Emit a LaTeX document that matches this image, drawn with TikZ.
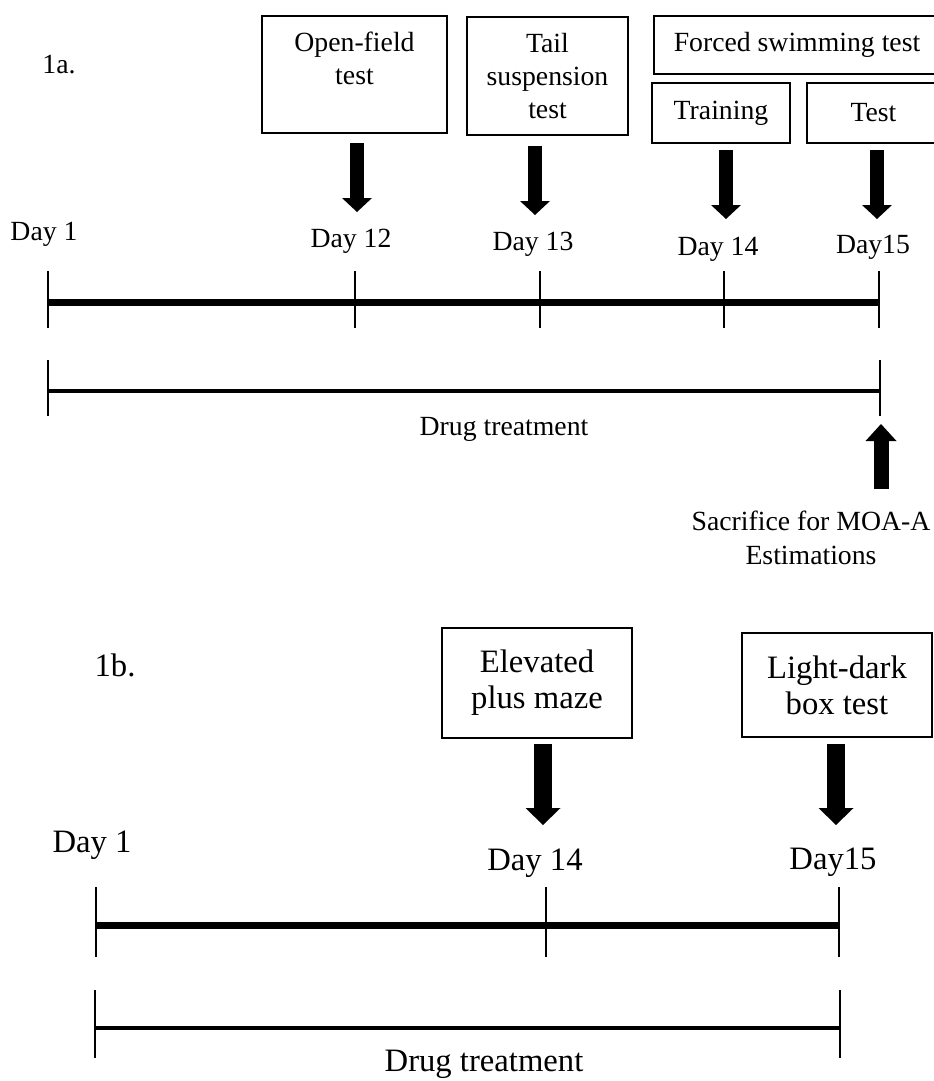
\documentclass[tikz,border=0pt]{standalone}
\usepackage{fontspec}
\setmainfont{Liberation Serif}
\usetikzlibrary{arrows.meta,calc}
\newcommand{\topfont}{\fontsize{20.8}{24.4}\selectfont}
\newcommand{\botfont}{\fontsize{24.5}{27}\selectfont}
\tikzset{
  testbox/.style={draw,line width=1.5pt,align=center,inner sep=0pt},
  daylab/.style={anchor=base,inner sep=0pt},
  tickline/.style={line width=1.9pt},
  timeline/.style={line width=5.25pt},
  drugline/.style={line width=3pt},
  fatarrow/.style={line width=10.5pt,-{Triangle[length=10.5pt,width=22.5pt,line width=0pt]}},
  bigarrow/.style={line width=13.5pt,-{Triangle[length=12.75pt,width=26.25pt,line width=0pt]}},
  uparrow/.style={line width=11.25pt,-{Triangle[length=12.75pt,width=23.25pt,line width=0pt]}},
}
\begin{document}
\begin{tikzpicture}[x=0.75pt,y=-0.75pt]
\useasboundingbox (0,0) rectangle (933,1081);
% ---- panel 1a ----
\node[daylab,font=\topfont] (lab1a) at (59,74) {1a.};
\node[testbox,font=\topfont,minimum width=138.75pt,minimum height=87.75pt] (openfield) at (354.5,74.5) {Open-field\\test\\~};
\node[testbox,font=\topfont,minimum width=120.75pt,minimum height=88.5pt] (tailbox) at (547.5,76) {Tail\\suspension\\test};
\node[testbox,font=\topfont,minimum width=214.5pt,minimum height=43.5pt] (forced) at (797,45) {Forced swimming test};
\node[testbox,font=\topfont,minimum width=103.5pt,minimum height=45pt] (training) at (721,113) {Training};
\node[testbox,font=\topfont,minimum width=99.75pt,minimum height=45pt] (testb) at (873.5,113) {Test};
% box to day arrows
\foreach \b/\x/\y/\g in {openfield/357/212/9,tailbox/535/215/10,training/726/219/6,testb/877/219/6} {
  \coordinate (tip-\b) at (\x,\y);
  \draw[fatarrow] ($(\b.south -| tip-\b)+(0,\g)$) -- (tip-\b);
}
% day labels
\node[daylab,font=\topfont] (a1) at (44,240) {Day 1};
\node[daylab,font=\topfont] (a12) at (351,247) {Day 12};
\node[daylab,font=\topfont] (a13) at (533,250) {Day 13};
\node[daylab,font=\topfont] (a14) at (718,255) {Day 14};
\node[daylab,font=\topfont] (a15) at (873,253) {Day15};
% timeline
\foreach \x/\n in {48/1,355/12,540/13,724/14,879/15} {
  \coordinate (ta\n) at (\x,302);
  \draw[tickline] (\x,271) -- (\x,328);
}
\draw[timeline] (ta1) -- (ta15);
% drug treatment
\coordinate (da1) at (48,391);
\coordinate (da2) at (880,391);
\draw[drugline] (da1) -- (da2);
\foreach \c in {da1,da2} \draw[tickline] ($(\c)+(0,-31)$) -- ($(\c)+(0,25)$);
\node[daylab,font=\topfont] (druga) at (504,435) {Drug treatment};
\node[anchor=north,inner sep=0pt,align=center,font={\fontsize{20.8}{25.5}\selectfont}] (sacrifice) at (811,511) {Sacrifice for MOA-A\\Estimations};
\coordinate (sactip) at (881,424);
\draw[uparrow] ($(sacrifice.north -| sactip)+(0,-22)$) -- (sactip);
% ---- panel 1b ----
\node[daylab,font=\botfont] (lab1b) at (115,676) {1b.};
\node[testbox,font=\botfont,minimum width=142.5pt,minimum height=82.5pt] (elevated) at (537,683) {Elevated\\plus maze};
\node[testbox,font=\botfont,minimum width=142.5pt,minimum height=78pt] (lightdark) at (837,685) {Light-dark\\box test};
\foreach \b/\x/\g in {elevated/543/5,lightdark/836/6} {
  \coordinate (tip-\b) at (\x,825);
  \draw[bigarrow] ($(\b.south -| tip-\b)+(0,\g)$) -- (tip-\b);
}
\node[daylab,font=\botfont] (b1) at (92,852) {Day 1};
\node[daylab,font=\botfont] (b14) at (535,870) {Day 14};
\node[daylab,font=\botfont] (b15) at (833,869) {Day15};
\foreach \x/\n in {96/1,546/14,839/15} {
  \coordinate (tb\n) at (\x,925);
  \draw[tickline] (\x,887) -- (\x,957);
}
\draw[timeline] (tb1) -- (tb15);
\coordinate (db1) at (95,1028);
\coordinate (db2) at (840,1028);
\draw[drugline] (db1) -- (db2);
\foreach \c in {db1,db2} \draw[tickline] ($(\c)+(0,-38)$) -- ($(\c)+(0,30)$);
\node[daylab,font=\botfont] (drugb) at (484,1071) {Drug treatment};
\end{tikzpicture}
\end{document}
